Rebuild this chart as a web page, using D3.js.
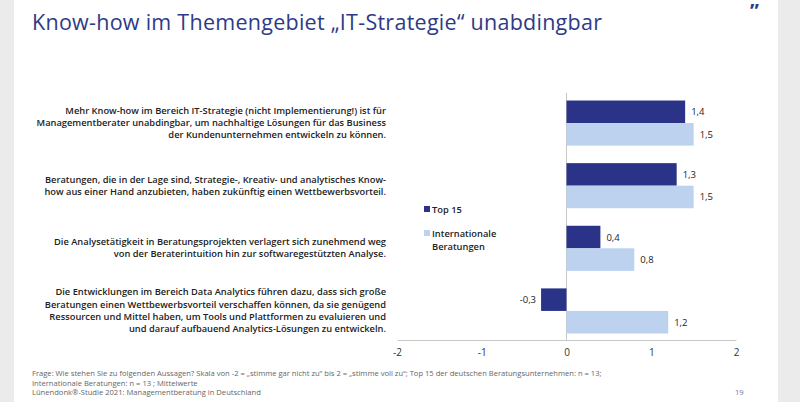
<!DOCTYPE html><html><head><meta charset="utf-8"><script src="https://cdn.jsdelivr.net/npm/d3@7"></script>
<style>body{margin:0;background:#ebebeb}svg{display:block;font-family:"Open Sans",sans-serif}</style></head><body><svg id="c" width="800" height="402"></svg>
<script>
const categories=[
["Mehr Know-how im Bereich IT-Strategie (nicht Implementierung!) ist für","Managementberater unabdingbar, um nachhaltige Lösungen für das Business","der Kundenunternehmen entwickeln zu können."],
["Beratungen, die in der Lage sind, Strategie-, Kreativ- und analytisches Know-","how aus einer Hand anzubieten, haben zukünftig einen Wettbewerbsvorteil."],
["Die Analysetätigkeit in Beratungsprojekten verlagert sich zunehmend weg","von der Beraterintuition hin zur softwaregestützten Analyse."],
["Die Entwicklungen im Bereich Data Analytics führen dazu, dass sich große","Beratungen einen Wettbewerbsvorteil verschaffen können, da sie genügend","Ressourcen und Mittel haben, um Tools und Plattformen zu evaluieren und","und darauf aufbauend Analytics-Lösungen zu entwickeln."]];
const top15=[1.4,1.3,0.4,-0.3];
const international=[1.5,1.5,0.8,1.2];
const seriesNames=["Top 15","Internationale Beratungen"];
const ticks=[-2,-1,0,1,2];
const colors=["#2b3388","#bcd2ef"];
const svg=d3.select("#c");
svg.append("rect").attr("x",14).attr("y",0).attr("width",764).attr("height",402).attr("fill","#fff");
svg.append("text").attr("x",32).attr("y",30).attr("font-family","'Open Sans',sans-serif").attr("font-size",21.5).attr("fill","#2e3a87").attr("textLength",570).text("Know-how im Themengebiet „IT-Strategie“ unabdingbar");
svg.append("text").attr("x",750).attr("y",18).attr("font-size",20).attr("font-weight","bold").attr("fill","#2e3a87").text("”");
const x=d3.scaleLinear().domain([-2,2]).range([397,736]);
const y=d3.scaleBand().domain(d3.range(4)).range([93,341]).paddingInner(0.28).paddingOuter(0.12);
const g=svg.append("g");
g.append("line").attr("x1",x(0)).attr("x2",x(0)).attr("y1",93).attr("y2",340).attr("stroke","#c8c8c8");
const ax=g.append("g").attr("transform","translate(0,340)").call(d3.axisBottom(x).tickValues(ticks).tickSize(0).tickPadding(9).tickFormat(d=>d<0?"-"+Math.abs(d):d));
ax.select(".domain").attr("stroke","#c8c8c8");
ax.selectAll("text").attr("font-size",10).attr("fill","#333").attr("font-family","'Open Sans',sans-serif");
const fmt=v=>String(v).replace(".",",");
[top15,international].forEach((s,si)=>{
 const bh=y.bandwidth()/2;
 g.selectAll(null).data(s).join("rect").attr("x",d=>x(Math.min(0,d))).attr("width",d=>Math.abs(x(d)-x(0)))
  .attr("y",(d,i)=>y(i)+si*bh).attr("height",bh).attr("fill",colors[si]);
 g.selectAll(null).data(s).join("text").attr("x",d=>d<0?x(d)-5:x(d)+6).attr("text-anchor",d=>d<0?"end":"start")
  .attr("y",(d,i)=>y(i)+si*bh+bh/2+3.5).attr("font-size",9.5).attr("fill","#222").text(fmt);
});
categories.forEach((lines,i)=>{
 const cy=y(i)+y.bandwidth()/2;const lh=12.3;
 const t=g.append("text").attr("text-anchor","end").attr("font-size",9.3).attr("font-weight",600).attr("fill","#222");
 lines.forEach((l,j)=>t.append("tspan").attr("x",386).attr("y",cy+(j-(lines.length-1)/2)*lh+3).text(l));
});
const lg=g.append("g");
lg.append("rect").attr("x",424).attr("y",206).attr("width",6).attr("height",6).attr("fill",colors[0]);
lg.append("text").attr("x",432).attr("y",213).attr("font-size",9.3).attr("font-weight",600).attr("fill","#222").text(seriesNames[0]);
lg.append("rect").attr("x",424).attr("y",230).attr("width",6).attr("height",6).attr("fill",colors[1]);
const lt=lg.append("text").attr("font-size",9.3).attr("font-weight",600).attr("fill","#222");
lt.append("tspan").attr("x",432).attr("y",237).text("Internationale");
lt.append("tspan").attr("x",432).attr("y",250).text("Beratungen");
const foot=["Frage: Wie stehen Sie zu folgenden Aussagen? Skala von -2 = „stimme gar nicht zu“ bis 2 = „stimme voll zu“; Top 15 der deutschen Beratungsunternehmen: n = 13;","Internationale Beratungen: n = 13 ; Mittelwerte","Lünendonk®-Studie 2021: Managementberatung in Deutschland"];
foot.forEach((f,i)=>svg.append("text").attr("x",32).attr("y",376+i*9.5).attr("font-size",7.6).attr("fill","#666").text(f));
svg.append("text").attr("x",735).attr("y",395).attr("font-size",7.6).attr("fill","#6a7ab0").text("19");
</script></body></html>
